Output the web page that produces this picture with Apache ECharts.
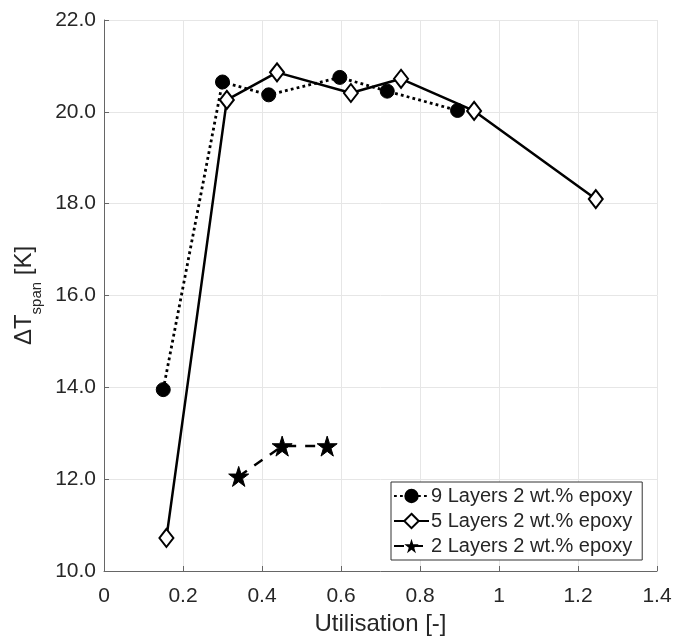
<!DOCTYPE html>
<html><head><meta charset="utf-8">
<script src="https://cdn.jsdelivr.net/npm/echarts@6/dist/echarts.min.js"></script>
<style>html,body{margin:0;padding:0;background:#fff}#c{width:684px;height:636px}</style>
</head><body><div id="c"></div>
<script>
const seriesNames = ['9 Layers 2 wt.% epoxy', '5 Layers 2 wt.% epoxy', '2 Layers 2 wt.% epoxy'];
const layers9X = [0.150, 0.300, 0.417, 0.597, 0.717, 0.895];
const layers9Y = [13.95, 20.65, 20.37, 20.75, 20.45, 20.03];
const layers5X = [0.158, 0.311, 0.438, 0.625, 0.752, 0.937, 1.245];
const layers5Y = [10.72, 20.26, 20.86, 20.41, 20.72, 20.02, 18.10];
const layers2X = [0.341, 0.451, 0.565];
const layers2Y = [12.06, 12.72, 12.72];
const xTicks = [0, 0.2, 0.4, 0.6, 0.8, 1, 1.2, 1.4];
const yTicks = [10, 12, 14, 16, 18, 20, 22];

const pair = (xs, ys) => xs.map((x, i) => [x, ys[i]]);
const star = 'path://M50,0 L61.8,35.4 L100,35.4 L69.1,57.3 L80.9,92.7 L50,70.8 L19.1,92.7 L30.9,57.3 L0,35.4 L38.2,35.4 Z';
const font = 'Liberation Sans, Arial, sans-serif';
const txt = '#262626';

const chart = echarts.init(document.getElementById('c'), null, {renderer: 'canvas'});
chart.setOption({
  animation: false,
  backgroundColor: '#fff',
  grid: {left: 104, right: 27, top: 20, bottom: 65, containLabel: false, outerBoundsMode: 'none'},
  xAxis: {
    type: 'value', min: xTicks[0], max: xTicks[xTicks.length - 1], interval: 0.2,
    name: 'Utilisation [-]', nameLocation: 'middle', nameGap: 39,
    nameTextStyle: {fontFamily: font, fontSize: 24, color: txt},
    axisLine: {show: true, lineStyle: {color: '#666', width: 1}},
    axisTick: {show: true, inside: true, length: 5, lineStyle: {color: '#666'}},
    axisLabel: {fontFamily: font, fontSize: 21, color: txt, margin: 15,
      formatter: v => String(+v.toFixed(1))},
    splitLine: {show: true, lineStyle: {color: '#e6e6e6', width: 1}}
  },
  yAxis: {
    type: 'value', min: yTicks[0], max: yTicks[yTicks.length - 1], interval: 2,
    name: '{a|ΔT}{s|span}{a| [K]}', nameLocation: 'middle', nameGap: 52, nameRotate: 90,
    nameTextStyle: {fontFamily: font, fontSize: 24, color: txt,
      rich: {
        a: {fontFamily: font, fontSize: 24, color: txt, verticalAlign: 'bottom', lineHeight: 26},
        s: {fontFamily: font, fontSize: 15, color: txt, verticalAlign: 'bottom', lineHeight: 15, padding: [0, 0, -8, 0]}
      }},
    axisLine: {show: true, lineStyle: {color: '#666', width: 1}},
    axisTick: {show: true, inside: true, length: 5, lineStyle: {color: '#666'}},
    axisLabel: {fontFamily: font, fontSize: 21, color: txt, margin: 8,
      formatter: v => v.toFixed(1)},
    splitLine: {show: true, lineStyle: {color: '#e6e6e6', width: 1}}
  },
  legend: {
    orient: 'vertical', left: 391, top: 482,
    backgroundColor: '#fff', borderColor: '#333', borderWidth: 1,
    padding: [2, 10, 2, 2], itemGap: 1, itemWidth: 35, itemHeight: 18,
    textStyle: {fontFamily: font, fontSize: 20, lineHeight: 24, color: txt, padding: [0, 0, 0, -3]},
    data: seriesNames
  },
  series: [
    {
      name: seriesNames[0], type: 'line', data: pair(layers9X, layers9Y),
      symbol: 'circle', symbolSize: 14,
      itemStyle: {color: '#000', borderColor: '#000'},
      lineStyle: {color: '#000', width: 2.8, type: [2.8, 3.2], cap: 'butt'}
    },
    {
      name: seriesNames[1], type: 'line', data: pair(layers5X, layers5Y),
      symbol: 'diamond', symbolSize: [14, 18],
      itemStyle: {color: '#fff', borderColor: '#000', borderWidth: 2},
      lineStyle: {color: '#000', width: 2.5, type: 'solid'}
    },
    {
      name: seriesNames[2], type: 'line', data: pair(layers2X, layers2Y),
      symbol: star, symbolSize: 20,
      itemStyle: {color: '#000', borderColor: '#000'},
      lineStyle: {color: '#000', width: 2.5, type: [10, 9]}
    }
  ]
});
</script></body></html>
